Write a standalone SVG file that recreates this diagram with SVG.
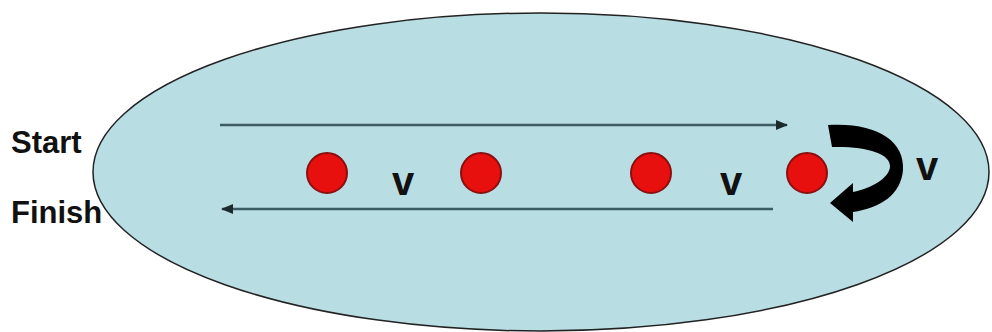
<svg xmlns="http://www.w3.org/2000/svg" width="992" height="332" viewBox="0 0 992 332">
<style>
.lbl{font-family:"Liberation Sans",Arial,sans-serif;font-weight:bold;fill:#111}
.ball{fill:#e80f0f;stroke:#8a1010;stroke-width:2}
.flow{stroke:#3b5c62;stroke-width:2.5;fill:none}
</style>
<defs>
<marker id="ah" viewBox="0 0 12 10" refX="11" refY="5" markerWidth="12" markerHeight="10" orient="auto" markerUnits="userSpaceOnUse">
<path d="M0,0 L12,5 L0,10 z" fill="#1c2a2c"/>
</marker>
</defs>
<rect width="992" height="332" fill="#fff"/>
<g id="field">
<ellipse cx="541" cy="172" rx="448" ry="159" fill="#b8dde2" stroke="#222" stroke-width="1.5"/>
</g>
<g id="labels">
<text class="lbl" x="11" y="153" font-size="31">Start</text>
<text class="lbl" x="11" y="223" font-size="31">Finish</text>
</g>
<g id="nodes">
<g id="ball1"><circle class="ball" cx="327" cy="173" r="20"/></g>
<g id="ball2"><circle class="ball" cx="481" cy="173" r="20"/></g>
<g id="ball3"><circle class="ball" cx="651" cy="173" r="20"/></g>
<g id="ball4"><circle class="ball" cx="807" cy="173" r="20"/></g>
<text class="lbl" x="392" y="195" font-size="40">v</text>
<text class="lbl" x="720" y="195" font-size="40">v</text>
<text class="lbl" x="916" y="180" font-size="40">v</text>
</g>
<g id="connectors">
<line class="flow" x1="220" y1="125" x2="787" y2="125" marker-end="url(#ah)"/>
<line class="flow" x1="773" y1="209" x2="222" y2="209" marker-end="url(#ah)"/>
<path d="M828,125 C875,122 905,140 903,170 C901,195 880,208 853,212 L853,222 L830,203 L853,183 L853,192 C872,188 889,178 890,167 C891,153 865,146 832,147 Z" fill="#000"/>
</g>
</svg>
